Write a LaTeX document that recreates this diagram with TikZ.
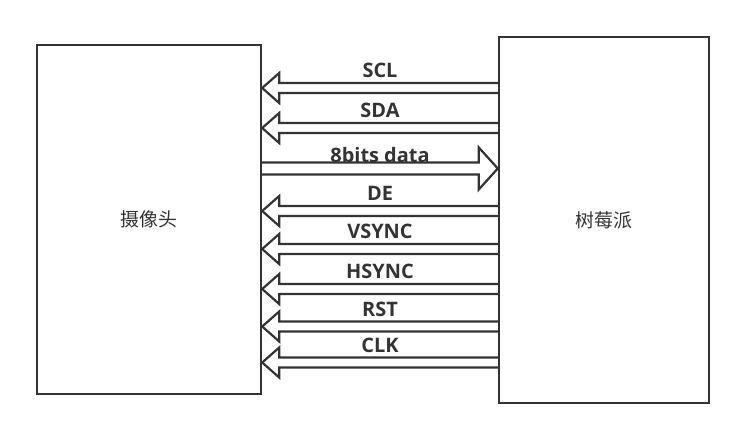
\documentclass[tikz,border=0pt]{standalone}
\usepackage{fontspec}
\setmainfont{Open Sans}
\newfontfamily\cjk{Noto Sans CJK SC}
\usetikzlibrary{calc}
\definecolor{linegray}{HTML}{333333}

\begin{document}
\begin{tikzpicture}[
  x=1bp,y=-1bp,
  board/.style={draw=linegray,line width=2.4bp,inner sep=0pt,text=linegray,
                font=\cjk\fontsize{19}{22}\selectfont},
  sig/.style={draw=linegray,line width=2.2bp,line join=miter},
  siglabel/.style={anchor=base,text=linegray,font=\bfseries\fontsize{20}{24}\selectfont},
]
\useasboundingbox (0,0) rectangle (746,440);
% the two boards
\node[board,minimum width=224bp,minimum height=349bp] (cam) at (149,219.5) {摄像头};
\node[board,minimum width=210bp,minimum height=366bp] (pi) at (604,220) {树莓派};
% signals from the Pi back to the camera
\foreach \y/\name in {88/SCL,128/SDA,211/DE,249/VSYNC,289/HSYNC,326.5/RST,362.5/CLK}{
  \coordinate (r\name) at (0,\y);
  \draw[sig] ($(pi.west |- r\name)+(0,-5)$) -- ($(cam.east |- r\name)+(17,-5)$) -- ++(0,-10)
    -- (cam.east |- r\name) -- ++(17,15) -- ++(0,-10) -- ($(pi.west |- r\name)+(0,5)$);
  \node[siglabel] (l\name) at ($(cam.east |- r\name)!0.5!(pi.west |- r\name)+(0,-10)$) {\name};
}
% data bus, camera to Pi
\coordinate (rdata) at (0,168.5);
\draw[sig] ($(cam.east |- rdata)+(0,-6)$) -- ($(pi.west |- rdata)+(-19,-6)$) -- ++(0,-15)
  -- (pi.west |- rdata) -- ++(-19,21) -- ++(0,-15) -- ($(cam.east |- rdata)+(0,6)$);
\node[siglabel] (ldata) at ($(cam.east |- rdata)!0.5!(pi.west |- rdata)+(0,-5.5)$) {8bits data};
\end{tikzpicture}
\end{document}
